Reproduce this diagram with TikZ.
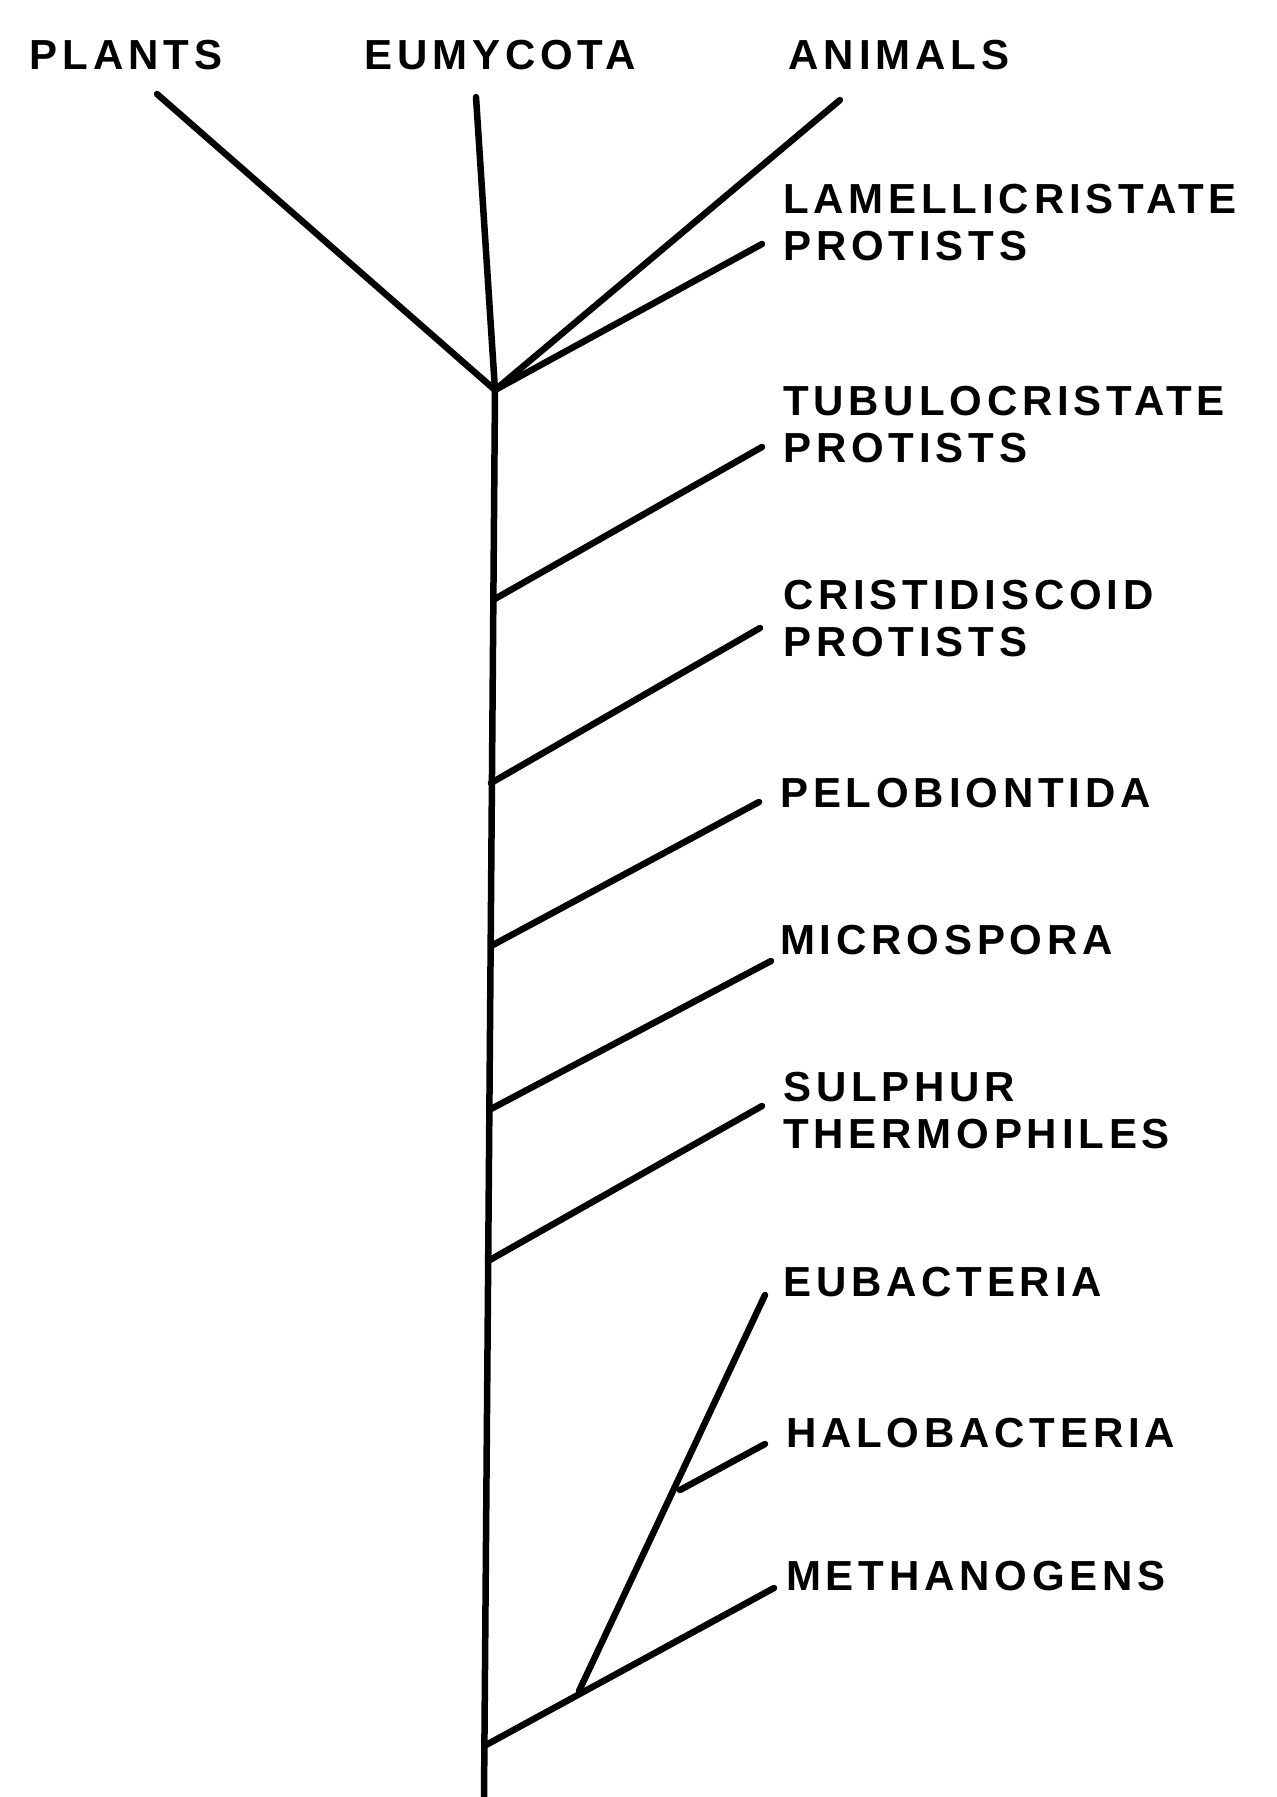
\documentclass[tikz,border=0pt]{standalone}
\usepackage{fontspec}
\newfontfamily\labfont[LetterSpace=11.5]{Liberation Sans Bold}
\begin{document}
\begin{tikzpicture}[x=1pt,y=-1pt,
  branch/.style={line width=6.5pt,line cap=round},
  lab/.style={anchor=west,inner sep=0pt,align=left,font=\labfont\fontsize{42}{47}\selectfont},
  toplab/.style={anchor=center,inner sep=0pt,font=\labfont\fontsize{42}{47}\selectfont}]
\useasboundingbox (0,0) rectangle (1277,1797);
% top labels
\node[toplab] (plants) at (126,55) {PLANTS};
\node[toplab] (eumy) at (500,55) {EUMYCOTA};
\node[toplab] (anim) at (899,55) {ANIMALS};
% side labels
\node[lab] (lam) at (783,223) {LAMELLICRISTATE\\PROTISTS};
\node[lab] (tub) at (783,425) {TUBULOCRISTATE\\PROTISTS};
\node[lab] (cri) at (783,619) {CRISTIDISCOID\\PROTISTS};
\node[lab] (pel) at (780,793) {PELOBIONTIDA};
\node[lab] (mic) at (780,940) {MICROSPORA};
\node[lab] (sul) at (783,1111) {SULPHUR\\THERMOPHILES};
\node[lab] (eub) at (783,1282) {EUBACTERIA};
\node[lab] (hal) at (786,1433) {HALOBACTERIA};
\node[lab] (met) at (786,1576) {METHANOGENS};
% coordinates
\coordinate (pT) at (157,94);
\coordinate (eT) at (476,97);
\coordinate (aT) at (840,100);
\coordinate (lT) at (762,244);
\coordinate (root) at (495,390);
\coordinate (bot) at (484,1797);
\coordinate (tB) at (493,600);  \coordinate (tT) at (762,447);
\coordinate (cB) at (491,783);  \coordinate (cT) at (760,628);
\coordinate (peB) at (491,946); \coordinate (peT) at (759,802);
\coordinate (mB) at (489,1110); \coordinate (mT) at (771,961);
\coordinate (sB) at (488,1261); \coordinate (sT) at (762,1106);
\coordinate (meB) at (486,1745); \coordinate (meT) at (774,1588);
\coordinate (arch) at (579,1691);
\coordinate (eubT) at (765,1295);
\coordinate (halB) at (680,1490); \coordinate (halT) at (765,1444);
% tree
\draw[branch] (pT) -- (root);
\draw[branch] (eT) -- (root) -- (bot);
\draw[branch] (aT) -- (root);
\draw[branch] (lT) -- (root);
\draw[branch] (tB) -- (tT);
\draw[branch] (cB) -- (cT);
\draw[branch] (peB) -- (peT);
\draw[branch] (mB) -- (mT);
\draw[branch] (sB) -- (sT);
\draw[branch] (meB) -- (meT);
\draw[branch] (arch) -- (eubT);
\draw[branch] (halB) -- (halT);
\end{tikzpicture}
\end{document}
